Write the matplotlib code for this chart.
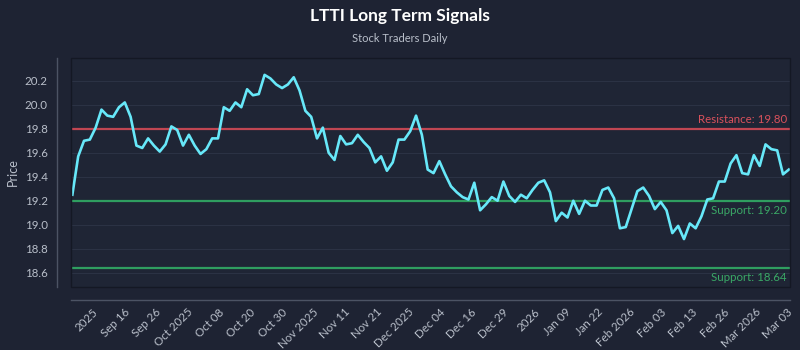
import numpy as np
import matplotlib
matplotlib.use('Agg')
import matplotlib.pyplot as plt
from matplotlib.patches import Rectangle

plt.rcParams['font.family'] = ['Lato', 'DejaVu Sans']

# daily closing prices (trading days)
prices = [
    19.25, 19.57, 19.70, 19.71, 19.81, 19.96, 19.91, 19.90, 19.98, 20.02,
    19.90, 19.66, 19.64, 19.72, 19.66, 19.61, 19.67, 19.82, 19.79, 19.66,
    19.75, 19.66, 19.59, 19.63, 19.72, 19.72, 19.98, 19.95, 20.02, 19.98,
    20.13, 20.08, 20.09, 20.25, 20.22, 20.17, 20.14, 20.17, 20.23, 20.12,
    19.95, 19.90, 19.72, 19.81, 19.60, 19.54, 19.74, 19.67, 19.68, 19.75,
    19.69, 19.64, 19.52, 19.57, 19.45, 19.52, 19.71, 19.71, 19.78, 19.91,
    19.75, 19.46, 19.43, 19.53, 19.42, 19.32, 19.27, 19.23, 19.21, 19.35,
    19.12, 19.17, 19.23, 19.20, 19.36, 19.24, 19.19, 19.25, 19.22, 19.29,
    19.35, 19.37, 19.27, 19.03, 19.10, 19.06, 19.20, 19.09, 19.20, 19.16,
    19.16, 19.29, 19.31, 19.22, 18.97, 18.98, 19.13, 19.28, 19.31, 19.24,
    19.13, 19.19, 19.12, 18.93, 18.99, 18.88, 19.01, 18.97, 19.07, 19.21,
    19.22, 19.36, 19.36, 19.51, 19.58, 19.43, 19.42, 19.58, 19.49, 19.67,
    19.63, 19.62, 19.42, 19.46,
]

date_labels = ['2025', 'Sep 16', 'Sep 26', 'Oct 2025', 'Oct 08', 'Oct 20', 'Oct 30',
               'Nov 2025', 'Nov 11', 'Nov 21', 'Dec 2025', 'Dec 04', 'Dec 16', 'Dec 29',
               '2026', 'Jan 09', 'Jan 22', 'Feb 2026', 'Feb 03', 'Feb 13', 'Feb 26',
               'Mar 2026', 'Mar 03']

resistance = 19.80
supports = [19.20, 18.64]

bg = '#1e2333'
panel = '#1f2535'
cyan = '#67e8f9'
red = '#c04652'
green = '#2f9e60'
text_col = '#b9bfca'

fig = plt.figure(figsize=(8, 3.5), dpi=100, facecolor=bg)
ax = fig.add_axes([0.089, 0.18, 0.8985, 0.654])
ax.set_facecolor(panel)

# offset spines first (moving a spine resets the ticks)
for side in ['top', 'right']:
    ax.spines[side].set_visible(False)
ax.spines['left'].set_position(('outward', 10))
ax.spines['bottom'].set_position(('outward', 9))
for side in ['left', 'bottom']:
    ax.spines[side].set_color('#4c5364')
    ax.spines[side].set_linewidth(1)

x = np.arange(len(prices))
ax.set_xlim(-0.2, len(prices) - 0.8)
ax.set_ylim(18.48, 20.39)

# grid
ax.set_yticks([18.6, 18.8, 19.0, 19.2, 19.4, 19.6, 19.8, 20.0, 20.2])
ax.yaxis.grid(True, color='#2b3244', linewidth=0.8)
ax.set_axisbelow(True)

# levels
ax.axhline(resistance, color=red, linewidth=1.6, zorder=2)
for s in supports:
    ax.axhline(s, color=green, linewidth=1.6, zorder=2)

ax.plot(x, prices, color=cyan, linewidth=1.9, zorder=3)

xr = len(prices) - 1.3
ax.text(xr, resistance + 0.03, f'Resistance: {resistance:.2f}', color='#d9515c',
        fontsize=8.3, ha='right', va='bottom')
for s in supports:
    ax.text(xr, s - 0.035, f'Support: {s:.2f}', color='#3aa866',
            fontsize=8.3, ha='right', va='top')

# x ticks
tick_pos = np.linspace(3.4, 122.6, len(date_labels))
ax.set_xticks(tick_pos)
ax.set_xticklabels(date_labels, rotation=45, ha='right', rotation_mode='anchor')

ax.tick_params(axis='both', length=0, colors=text_col, labelsize=8.3)
ax.tick_params(axis='y', pad=7)
ax.tick_params(axis='x', pad=5)

# panel border
ax.add_patch(Rectangle((0, 0), 1, 1, transform=ax.transAxes, fill=False,
                       edgecolor='#141824', linewidth=1, zorder=5, clip_on=False))

ax.set_ylabel('Price', color=text_col, fontsize=9, labelpad=4)

fig.text(0.5, 0.955, 'LTTI Long Term Signals', color='white', fontsize=12.5,
         fontweight='bold', ha='center', va='center')
fig.text(0.5, 0.89, 'Stock Traders Daily', color=text_col, fontsize=8,
         ha='center', va='center')

fig.savefig('out.png', dpi=100, facecolor=bg)
